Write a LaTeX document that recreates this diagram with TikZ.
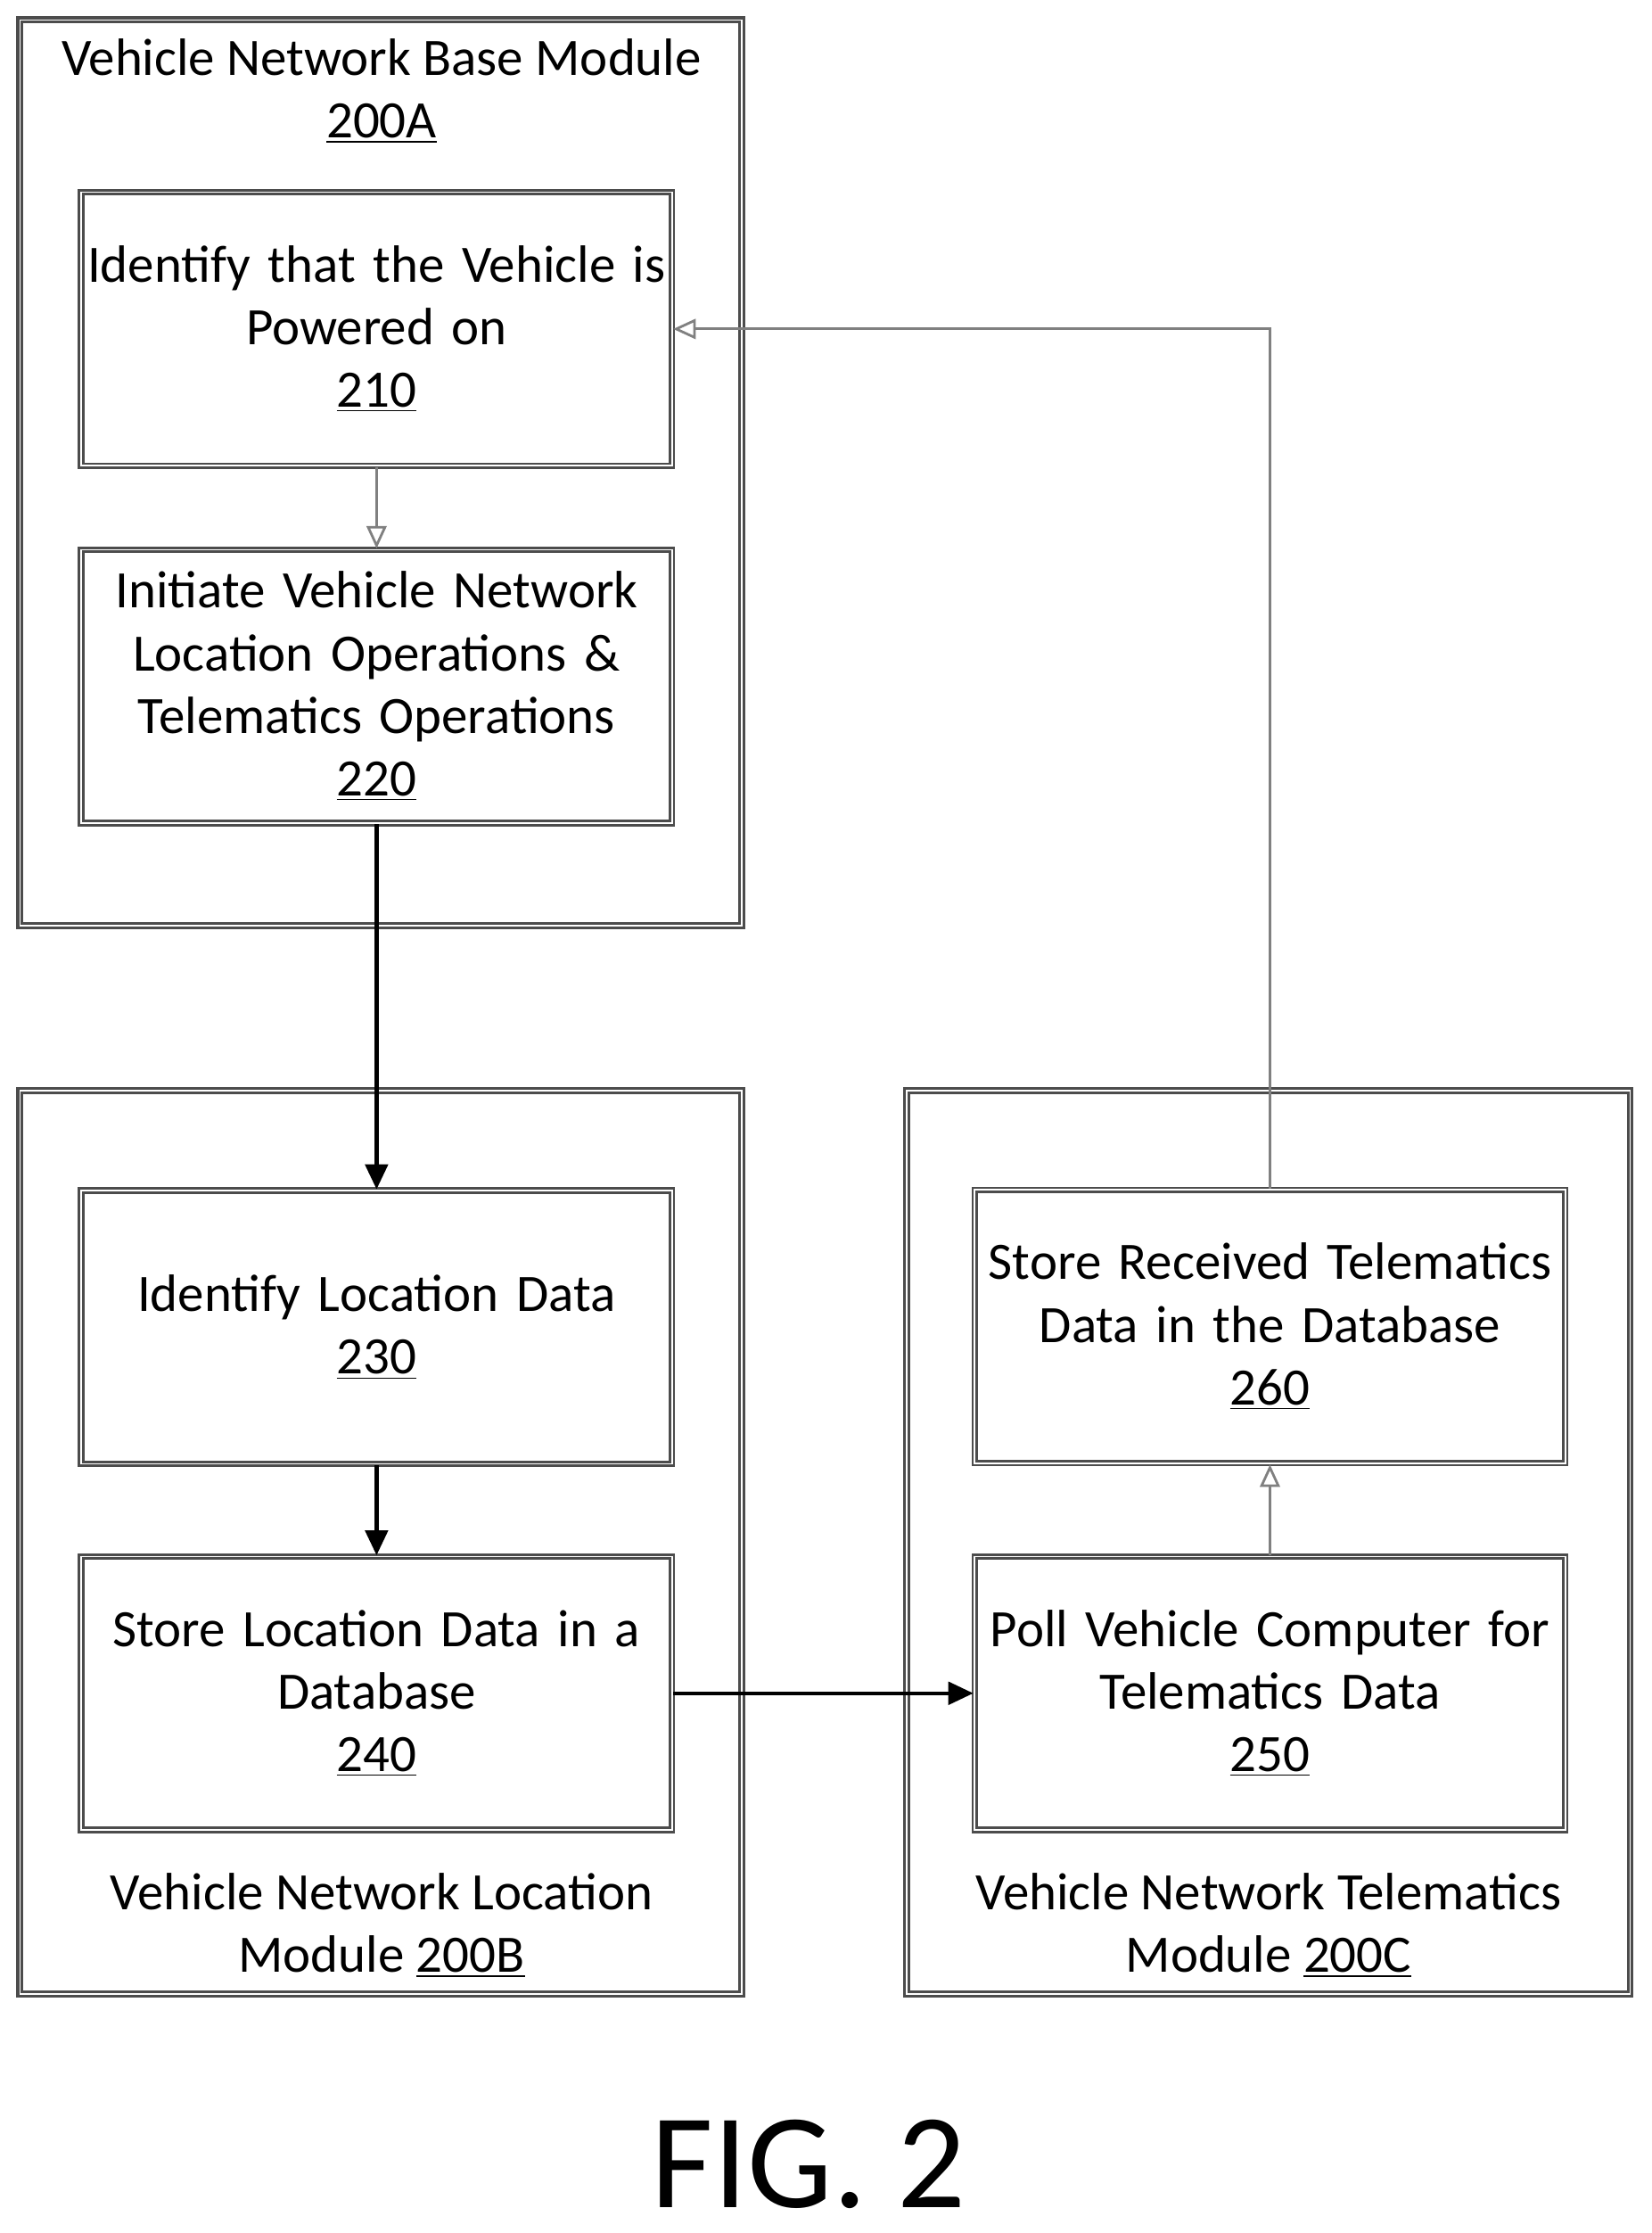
\documentclass[tikz,border=0pt]{standalone}
\usepackage{fontspec}
\setmainfont{Carlito}
\usetikzlibrary{arrows.meta}
\tikzstyle{module} = [rectangle, draw=black!70, line width=1.1pt, double=white, double distance=0.6pt]
\tikzstyle{stepbox} = [rectangle, draw=black!70, line width=1pt, double=white, double distance=0.6pt, align=center, text width=8.2cm, minimum width=8.3cm, minimum height=3.84cm, inner sep=1pt, font=\fontsize{21}{25}\selectfont]
\tikzstyle{arrow} = [line width=1.6pt,-{Triangle[length=10pt,width=9pt]}]
\tikzstyle{grayarrow} = [gray, line width=1pt,-{Triangle[open,length=9pt,width=8pt]}]
\begin{document}
\begin{tikzpicture}[x=0.02cm,y=-0.02cm]
\useasboundingbox (0,0) rectangle (1160,1568);
% modules
\draw[module] (14,14) rectangle (521,650);
\draw[module] (14,766) rectangle (521,1400);
\draw[module] (637,766) rectangle (1145,1400);
\node[font=\fontsize{21}{25}\selectfont, align=center] (titleA) at (268,64) {Vehicle Network Base Module\\\underline{200A}};
\node[font=\fontsize{21}{25}\selectfont, align=center] (titleB) at (268,1352) {Vehicle Network Location\\Module \underline{200B}};
\node[font=\fontsize{21}{25}\selectfont, align=center] (titleC) at (891,1352) {Vehicle Network Telematics\\Module \underline{200C}};
% steps
\node[stepbox] (s210) at (264.5,231) {Identify that the Vehicle is\\Powered on\\\underline{210}};
\node[stepbox] (s220) at (264.5,482) {Initiate Vehicle Network\\Location Operations \&\\Telematics Operations\\\underline{220}};
\node[stepbox] (s230) at (264.5,932) {Identify Location Data\\\underline{230}};
\node[stepbox] (s240) at (264.5,1189) {Store Location Data in a\\Database\\\underline{240}};
\node[stepbox] (s260) at (892,931.5) {Store Received Telematics\\Data in the Database\\\underline{260}};
\node[stepbox] (s250) at (892,1189) {Poll Vehicle Computer for\\Telematics Data\\\underline{250}};
\node[font=\fontsize{54}{60}\selectfont] (fig) at (568,1520) {FIG. 2};
% connectors
\draw[grayarrow] (s210) -- (s220);
\draw[arrow] (s220) -- (s230);
\draw[arrow] (s230) -- (s240);
\draw[arrow] (s240) -- (s250);
\draw[grayarrow] (s250) -- (s260);
\draw[grayarrow] (s260.north) |- (s210.east);
\end{tikzpicture}
\end{document}
